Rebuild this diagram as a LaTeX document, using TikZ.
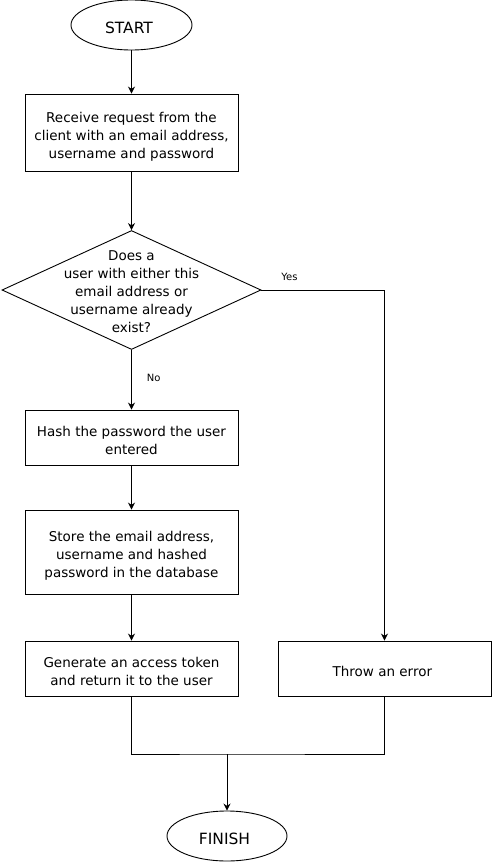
\documentclass[tikz,border=0pt]{standalone}
\usepackage{fontspec}
\setmainfont{DejaVu Sans}
\usetikzlibrary{shapes.geometric,arrows.meta}

\begin{document}
\begin{tikzpicture}
  [
    x                  = 1pt,
    y                  = -1pt,
    every node/.style  = {font=\fontsize{13.5}{18}\selectfont, align=center},
    terminal/.style    = {draw, ellipse, inner sep=0pt, minimum width=121pt,
                          minimum height=50pt, font=\fontsize{15.5}{18}\selectfont,
                          text height=16.6pt, text depth=0pt},
    process/.style     = {draw, rectangle, inner sep=0pt, minimum width=213pt,
                          text depth=0pt},
    one line/.style    = {text height=15pt},
    two lines/.style   = {text height=33pt},
    three lines/.style = {text height=51pt},
    decision/.style    = {draw, diamond, inner sep=0pt, minimum width=259pt,
                          minimum height=119pt},
    branch/.style      = {font=\fontsize{10}{12}\selectfont},
    flow/.style        = {draw, -{Stealth[length=7pt, width=7pt]}},
    line width         = 0.9pt
  ]
  \useasboundingbox (0,0) rectangle (492,862);

  \node[terminal] (start) at (131.5,25) { START };
  \node[process, three lines, minimum height=77pt] (request) at (131.5,132.5)
    { Receive request from the\\ client with an email address,\\ username and password };
  \node[decision] (check) at (131.5,290) {};
  \node (question) at (131.5,291.5) { Does a\\ user with either this\\ email address or\\ username already\\ exist? };
  \node[process, two lines, minimum height=55pt] (hash) at (131.5,437.5)
    { Hash the password the user\\ entered };
  \node[process, three lines, minimum height=84pt] (store) at (131.5,552)
    { Store the email address,\\ username and hashed\\ password in the database };
  \node[process, two lines, minimum height=55pt] (token) at (131.5,668.5)
    { Generate an access token\\ and return it to the user };
  \node[process, one line, minimum height=55pt] (error) at (384.5,668.5) { Throw an error };
  \node[terminal, minimum width=120pt] (finish) at (227,836) { FINISH };
  \coordinate (join) at (227,754);

  \draw[flow] (start) -- (request);
  \draw[flow] (request) -- (check);
  \draw[flow] (check.east) -| node[branch, pos=0.12, above=6pt] (yes) { Yes } (error.north);
  \draw[flow] (check.south) -- node[branch, right=11.5pt, pos=0.47] (no) { No } (hash);
  \draw[flow] (hash) -- (store);
  \draw[flow] (store) -- (token);
  \draw (token.south) |- (join) -| (error.south);
  \draw[flow] (join) -- (finish);
\end{tikzpicture}
\end{document}
